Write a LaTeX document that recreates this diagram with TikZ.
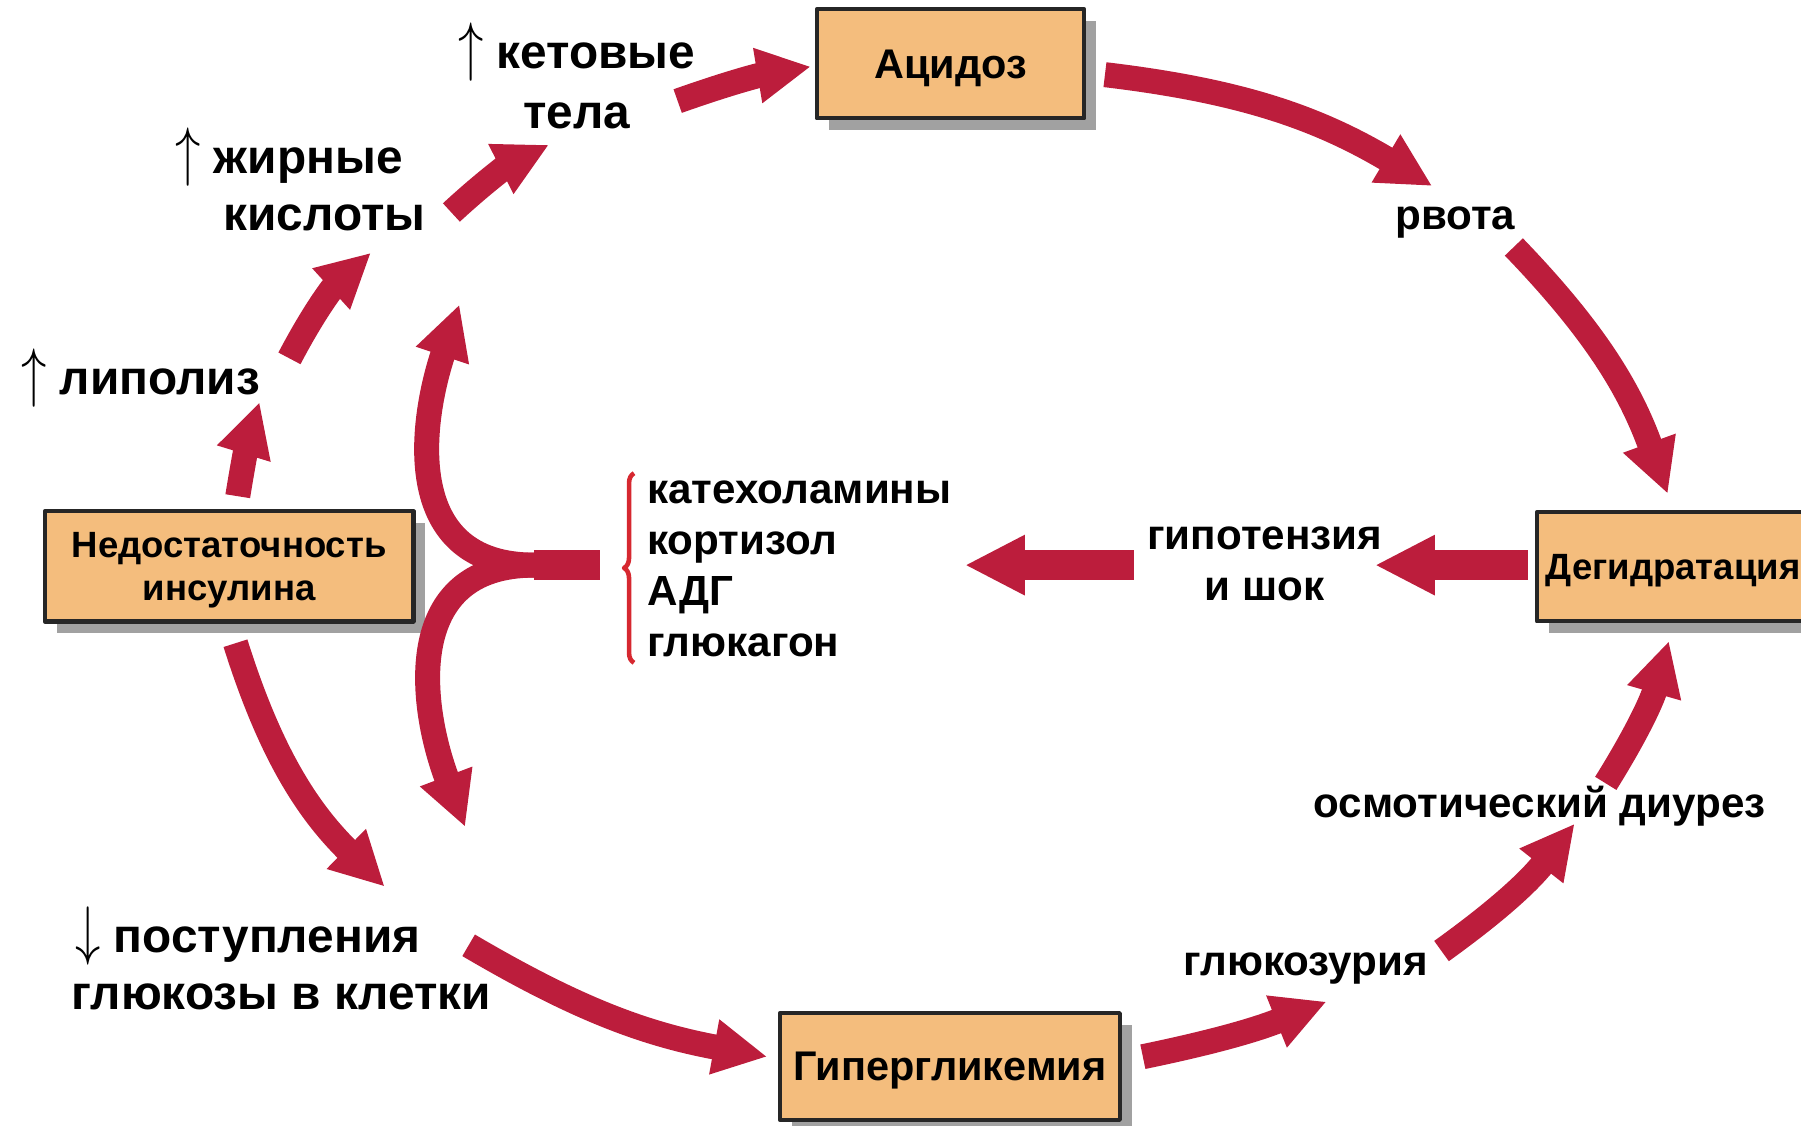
\documentclass[tikz,border=0pt]{standalone}
\usepackage{fontspec}
\setmainfont{Liberation Sans}
\usetikzlibrary{arrows.meta,shadows,decorations.pathreplacing}
\definecolor{boxfill}{RGB}{244,189,125}
\definecolor{arrred}{RGB}{188,29,60}
\definecolor{bracered}{RGB}{214,40,48}
\newcommand{\upar}{\scalebox{1}[1.3]{$\big\uparrow$}}
\newcommand{\dnar}{\scalebox{1}[1.3]{$\big\downarrow$}}

\begin{document}
\begin{tikzpicture}[x=0.011486cm,y=-0.011486cm,line join=round]
	\tikzset{
		box/.style={draw=black!85,line width=1.2pt,fill=boxfill,inner sep=0pt,align=center,text depth=0pt,
			drop shadow={shadow xshift=0.12cm,shadow yshift=-0.12cm,fill=black!37,draw=none,opacity=1}},
		big/.style={inner sep=0pt,font=\fontsize{13.6}{17.3}\selectfont\bfseries},
		mid/.style={inner sep=0pt,font=\fontsize{12}{14.6}\selectfont\bfseries},
		flow/.style={arrred,line width=0.25cm,-{Triangle[length=0.54cm,width=0.52cm]}},
		flowh/.style={arrred,line width=0.3cm,-{Triangle[length=0.6cm,width=0.56cm]}},
	}
	\clip (0,0) rectangle (1568,980);
	
	% --- Блоки ---
	\node[box,minimum width=2.676cm,minimum height=1.091cm,font=\fontsize{11.8}{14}\selectfont\bfseries] (acid) at (827.5,55.5) {Ацидоз};
	\node[box,minimum width=3.687cm,minimum height=1.103cm,font=\fontsize{10.4}{12.4}\selectfont\bfseries] (insul) at (199.5,493) {Недостаточность\\инсулина};
	\node[box,minimum width=3.4cm,minimum height=1.068cm,font=\fontsize{11.8}{14}\selectfont\bfseries] (hyper) at (827,928.5) {Гипергликемия};
	\node[box,minimum width=2.722cm,minimum height=1.091cm,font=\fontsize{10.4}{12.4}\selectfont\bfseries] (dehyd) at (1456.5,493.5) {Дегидратация};
	
	% --- Подписи ---
	\node[big,align=center] (keto) at (502,66) {\upar\ кетовые\\тела};
	\node[big,anchor=west] (fatty) at (152,137) {\upar\ жирные};
	\node[big,anchor=west] (acids) at (194,190) {кислоты};
	\node[big,anchor=west] (lipo) at (18,329) {\upar\ липолиз};
	\node[big,anchor=west] (uptake) at (65,815) {\dnar\ поступления};
	\node[big,anchor=west] (gluc) at (62,868) {глюкозы в клетки};
	\node[mid] (vomit) at (1267,194) {рвота};
	\node[mid,align=center] (hypot) at (1101,491) {гипотензия\\и шок};
	\node[mid,anchor=west] (osmo) at (1143,702) {осмотический диурез};
	\node[mid,anchor=west] (glucos) at (1030,843) {глюкозурия};
	\node[mid,align=left,anchor=west,font=\fontsize{12}{14.5}\selectfont\bfseries] (horm) at (563,495) {катехоламины\\кортизол\\АДГ\\глюкагон};
	\draw[bracered,line width=1.3pt,decorate,decoration={brace,amplitude=0.1cm}] (552,577)--(552,412);
	
	% --- Концы стрелок ---
	\coordinate (l1s) at (207,432); \coordinate (l1e) at (226,350);
	\coordinate (l2s) at (252,312); \coordinate (l2e) at (323,220);
	\coordinate (l3s) at (393,185); \coordinate (l3e) at (478,126);
	\coordinate (l4s) at (590,88);  \coordinate (l4e) at (706,58);
	\coordinate (r1s) at (962,65);  \coordinate (r1e) at (1247,162);
	\coordinate (r2s) at (1318,215); \coordinate (r2e) at (1452,430);
	\coordinate (m1s) at (1330,492); \coordinate (m1e) at (1197,492);
	\coordinate (m2s) at (987,492); \coordinate (m2e) at (840,492);
	\coordinate (b1s) at (1398,682); \coordinate (b1e) at (1453,558);
	\coordinate (b2s) at (1255,828); \coordinate (b2e) at (1371,717);
	\coordinate (b3s) at (995,920); \coordinate (b3e) at (1155,872);
	\coordinate (b4s) at (408,823); \coordinate (b4e) at (668,920);
	\coordinate (b5s) at (205,560); \coordinate (b5e) at (335,772);
	
	% --- Круг стрелок ---
	\draw[flow] (l1s) to[bend left=4] (l1e);
	\draw[flow] (l2s) to[bend left=10] (l2e);
	\draw[flow] (l3s) to[bend left=8] (l3e);
	\draw[flow] (l4s) to[bend left=5] (l4e);
	\draw[flow] (r1s) to[bend left=12] (r1e);
	\draw[flow] (r2s) to[bend left=12] (r2e);
	\draw[flowh] (m1s)--(m1e);
	\draw[flowh] (m2s)--(m2e);
	\draw[flow] (b1s) to[bend right=8] (b1e);
	\draw[flow] (b2s) to[bend right=8] (b2e);
	\draw[flow] (b3s) to[bend right=5] (b3e);
	\draw[flow] (b4s) to[bend right=10] (b4e);
	\draw[flow] (b5s) to[bend right=14] (b5e);
	
	% --- Развилка от гормонов ---
	\coordinate (fstem) at (522,492);
	\coordinate (fjoin) at (465,492);
	\coordinate (fup) at (400,265);
	\coordinate (fdown) at (405,720);
	\draw[arrred,line width=0.3cm] (fstem)--(fjoin);
	\draw[flow] (fjoin) .. controls (350,492) and (365,370) .. (fup);
	\draw[flow] (fjoin) .. controls (350,492) and (365,614) .. (fdown);
\end{tikzpicture}
\end{document}
